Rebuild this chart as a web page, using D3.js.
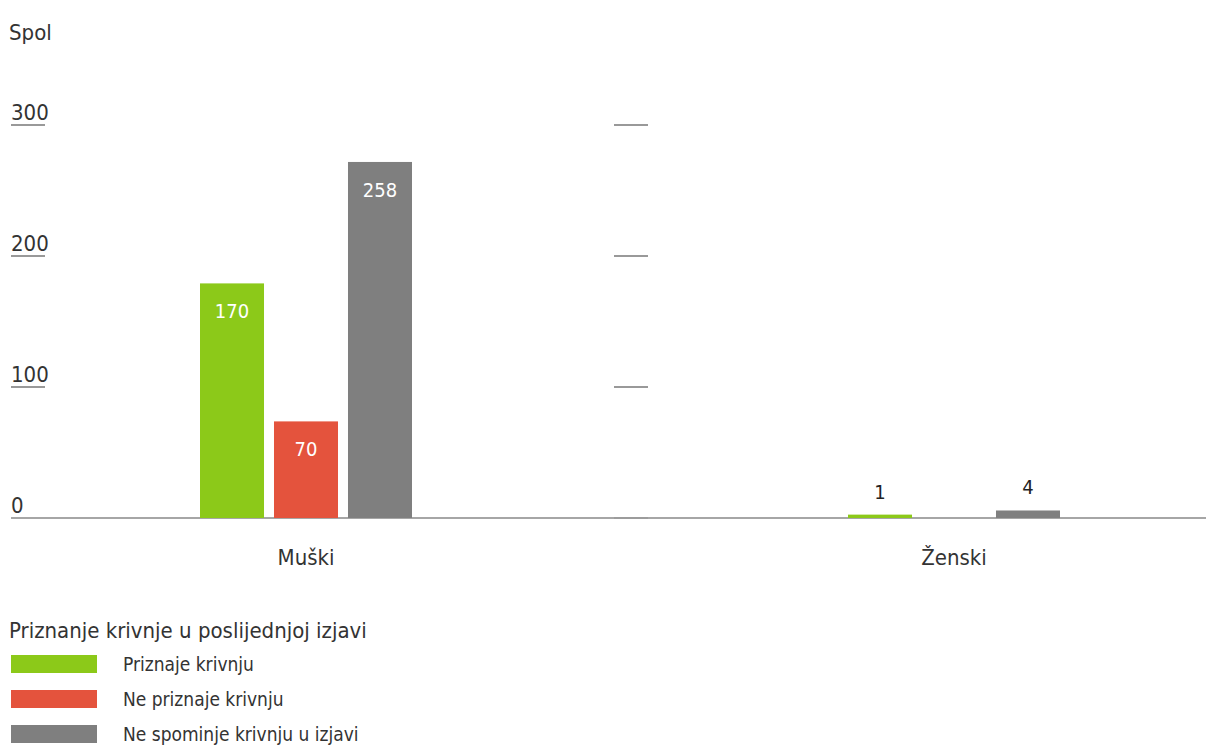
<!DOCTYPE html>
<meta charset="utf-8">
<style>
  body {
    margin: 0;
    background: #fff;
    font-family: 'Liberation Sans Narrow', 'DejaVu Sans Condensed', 'Roboto', sans-serif;
  }
  text { fill: #333; }
  .tick line { stroke: #999; stroke-width: 2; }
  .valueLabel { font-size: 20px; }
</style>
<body>
  <div id="chart"></div>
  <script src="https://d3js.org/d3.v7.min.js"></script>
  <script>
    // data
    var categories = ["Muški", "Ženski"];
    var seriesNames = ["Priznaje krivnju", "Ne priznaje krivnju", "Ne spominje krivnju u izjavi"];
    var seriesColors = ["#8cc919", "#e4533d", "#7f7f7f"];
    var priznaje = [170, 1];
    var nePriznaje = [70, 0];
    var neSpominje = [258, 4];
    var tickValues = [0, 100, 200, 300];

    var width = 1206, height = 749;
    var baseY = 518;

    var svg = d3.select("#chart").append("svg")
      .attr("width", width)
      .attr("height", height);

    var rows = categories.map((c, i) => ({
      cat: c,
      values: [priznaje[i], nePriznaje[i], neSpominje[i]]
    }));

    // scales
    var x0 = d3.scalePoint().domain(categories).range([306, 954]);
    var x1 = d3.scaleBand().domain(d3.range(seriesNames.length)).range([-106, 106]).paddingInner(0.135);
    var y = d3.scaleLinear().domain([0, 300]).range([baseY, baseY - 414]);
    // the original axis has a slightly tighter tick spacing than the bars
    var yTicks = d3.scaleLinear().domain([0, 300]).range([baseY, 125]);

    // title
    svg.append("text")
      .attr("x", 9).attr("y", 40)
      .style("font-size", "22px")
      .text("Spol");

    // tick marks, left (with labels) and in the middle (without)
    [[11, true], [614, false]].forEach(([ax, withLabel]) => {
      var g = svg.append("g").attr("transform", `translate(${ax},0)`);
      var t = g.selectAll(".tick")
        .data(tickValues)
        .enter().append("g")
        .attr("class", "tick")
        .attr("transform", d => `translate(0,${yTicks(d)})`);
      t.filter(d => d > 0 || !withLabel).append("line")
        .attr("x1", 0).attr("x2", 34)
        .style("opacity", d => d === 0 ? 0.4 : 1);
      if (withLabel) {
        t.append("text")
          .attr("x", 0).attr("y", -5)
          .style("font-size", "22px")
          .text(d => d);
      }
    });

    // baseline
    svg.append("line")
      .attr("x1", 11).attr("x2", width)
      .attr("y1", baseY).attr("y2", baseY)
      .attr("stroke", "#888").attr("stroke-width", 1.5);

    // bars
    var group = svg.selectAll(".cat")
      .data(rows)
      .enter().append("g")
      .attr("class", "cat")
      .attr("transform", d => `translate(${x0(d.cat)},0)`);

    group.selectAll("rect")
      .data(d => d.values.map((v, i) => ({ v: v, i: i })))
      .enter().append("rect")
      .attr("x", d => x1(d.i))
      .attr("y", d => y(d.v) - (d.v > 0 && d.v < 10 ? 2 : 0))
      .attr("width", x1.bandwidth())
      .attr("height", d => d.v > 0 ? baseY - y(d.v) + (d.v < 10 ? 2 : 0) : 0)
      .attr("fill", d => seriesColors[d.i]);

    group.selectAll(".valueLabel")
      .data(d => d.values.map((v, i) => ({ v: v, i: i })).filter(d => d.v > 0))
      .enter().append("text")
      .attr("class", "valueLabel")
      .attr("x", d => x1(d.i) + x1.bandwidth() / 2)
      .attr("y", d => d.v > 30 ? y(d.v) + 35 : y(d.v) - 18)
      .attr("text-anchor", "middle")
      .style("fill", d => d.v > 30 ? "#fff" : "#222")
      .text(d => d.v);

    // category labels
    svg.selectAll(".catLabel")
      .data(categories)
      .enter().append("text")
      .attr("class", "catLabel")
      .attr("x", d => x0(d))
      .attr("y", 565)
      .attr("text-anchor", "middle")
      .style("font-size", "22px")
      .text(d => d);

    // legend
    svg.append("text")
      .attr("x", 9).attr("y", 638)
      .style("font-size", "22px")
      .text("Priznanje krivnje u poslijednjoj izjavi");

    var leg = svg.selectAll(".leg")
      .data(seriesNames)
      .enter().append("g")
      .attr("class", "leg")
      .attr("transform", (d, i) => `translate(11,${655 + i * 35})`);
    leg.append("rect")
      .attr("width", 86).attr("height", 18)
      .attr("fill", (d, i) => seriesColors[i]);
    leg.append("text")
      .attr("x", 112).attr("y", 16)
      .style("font-size", "19px")
      .text(d => d);
  </script>
</body>
